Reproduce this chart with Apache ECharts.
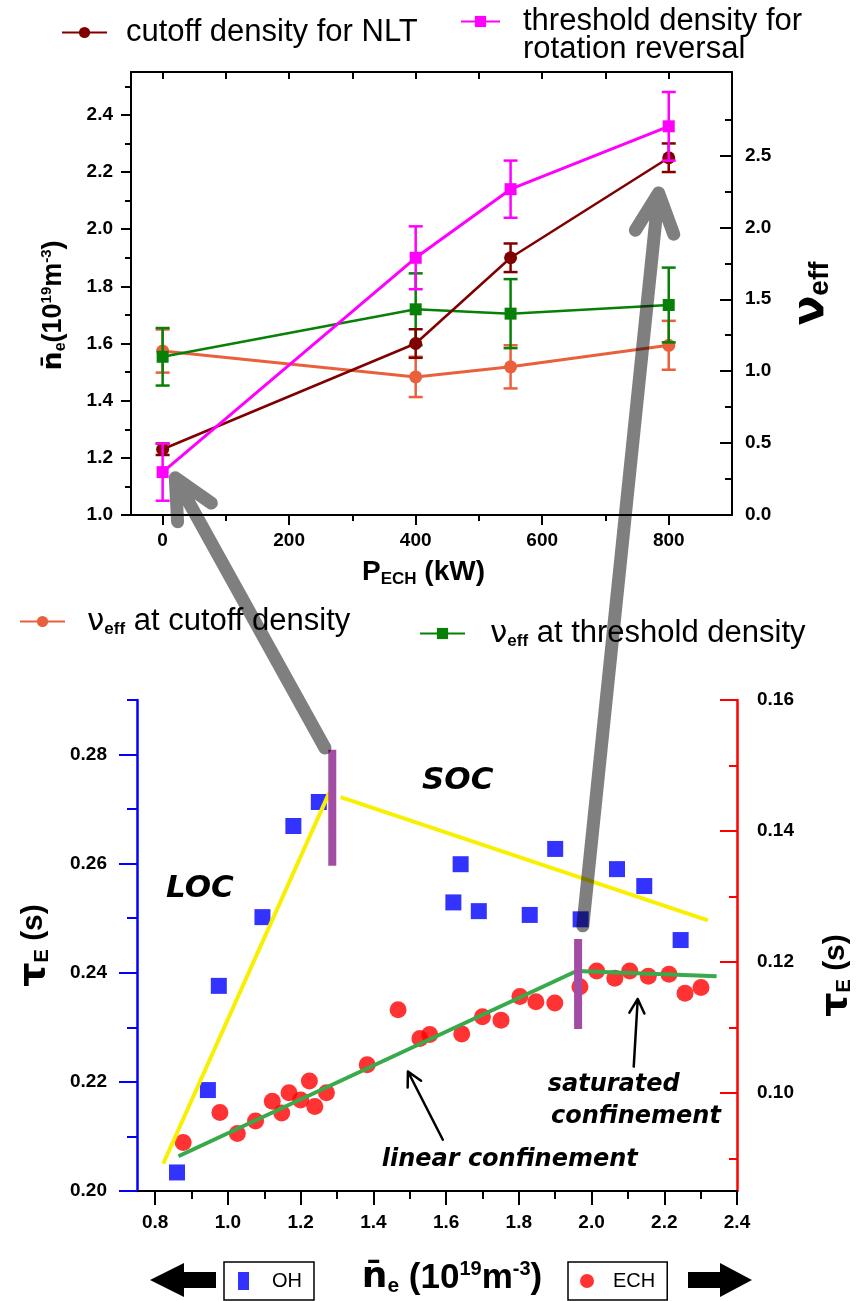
<!DOCTYPE html>
<html><head><meta charset="utf-8">
<script src="https://cdn.jsdelivr.net/npm/echarts@6/dist/echarts.min.js"></script>
<style>html,body{margin:0;padding:0;background:#fff}#c{width:864px;height:1301px}</style>
</head><body><div id="c"></div>
<script>
// ---------- Top panel data ----------
const pechKW = [0, 400, 550, 800];
const cutoffDensity = [1.23, 1.60, 1.90, 2.25];
const cutoffDensityErr = [0.02, 0.05, 0.05, 0.05];
const thresholdDensity = [1.15, 1.90, 2.14, 2.36];
const thresholdDensityErr = [0.10, 0.11, 0.10, 0.12];
const nuEffCutoff = [1.14, 0.96, 1.03, 1.18];
const nuEffCutoffErr = [0.15, 0.14, 0.15, 0.17];
const nuEffThreshold = [1.10, 1.43, 1.40, 1.46];
const nuEffThresholdErr = [0.20, 0.25, 0.24, 0.26];
const pechTicks = [0, 200, 400, 600, 800];
const pechMinorTicks = [100, 300, 500, 700];
const pechAllTicks = [0, 100, 200, 300, 400, 500, 600, 700, 800];
const densityTicks = [1.0, 1.2, 1.4, 1.6, 1.8, 2.0, 2.2, 2.4];
const densityMinorTicks = [1.1, 1.3, 1.5, 1.7, 1.9, 2.1, 2.3, 2.5];
const nuTicks = [0, 0.5, 1.0, 1.5, 2.0, 2.5];
const nuMinorTicks = [0.25, 0.75, 1.25, 1.75, 2.25, 2.75];

// ---------- Bottom panel data ----------
const ohDensity = [0.86, 0.945, 0.975, 1.095, 1.18, 1.25, 1.62, 1.64, 1.69, 1.83, 1.90, 1.97, 2.07, 2.145, 2.245];
const ohTau = [0.2034, 0.2185, 0.2376, 0.2502, 0.2669, 0.2713, 0.2529, 0.2599, 0.2513, 0.2506, 0.2627, 0.2498, 0.2590, 0.2559, 0.2460];
const echDensity = [0.877, 0.978, 1.026, 1.076, 1.122, 1.148, 1.168, 1.200, 1.224, 1.239, 1.271, 1.383, 1.468, 1.528, 1.555, 1.643, 1.700, 1.751, 1.803, 1.847, 1.899, 1.968, 2.014, 2.064, 2.105, 2.156, 2.213, 2.257, 2.301];
const echTau = [0.0924, 0.0970, 0.0938, 0.0957, 0.0987, 0.0969, 0.1000, 0.0989, 0.1018, 0.0979, 0.1000, 0.1043, 0.1127, 0.1083, 0.1089, 0.1090, 0.1116, 0.1111, 0.1147, 0.1139, 0.1137, 0.1162, 0.1186, 0.1175, 0.1186, 0.1178, 0.1181, 0.1152, 0.1161];
const locFitDensity = [0.822, 1.28];
const locFitTau = [0.2050, 0.2732];
const socFitDensity = [1.31, 2.32];
const socFitTau = [0.2722, 0.2496];
const echFitDensity = [0.864, 1.959, 2.344];
const echFitTau = [0.0903, 0.1186, 0.1178];
const transitionDensity = [1.287, 1.963];
const transitionTauLow = [0.2596, 0.2297];
const transitionTauHigh = [0.2809, 0.2462];
const neTicks = [0.8, 1.0, 1.2, 1.4, 1.6, 1.8, 2.0, 2.2, 2.4];
const neMinorTicks = [0.9, 1.1, 1.3, 1.5, 1.7, 1.9, 2.1, 2.3];
const tauOhTicks = [0.20, 0.22, 0.24, 0.26, 0.28];
const tauOhMinorTicks = [0.21, 0.23, 0.25, 0.27, 0.29];
const tauEchTicks = [0.10, 0.12, 0.14, 0.16];
const tauEchMinorTicks = [0.09, 0.11, 0.13, 0.15];

// ---------- styling ----------
const FONT = '"Liberation Sans", Arial, Helvetica, sans-serif';
const DJ = '"DejaVu Sans", "Liberation Sans", sans-serif';
const C_NLT = '#800000', C_THR = '#ff00ff', C_NUC = '#e8603c', C_NUT = '#078007';
const C_OH = '#0000ff', C_ECH = '#ff0000';

const labelStyle = (fmt, margin, extra) => Object.assign({
  fontSize: 19, fontWeight: 'bold', color: '#000', fontFamily: FONT, margin, formatter: fmt
}, extra || {});

function axis(o) {
  const a = {
    type: 'value', gridIndex: o.grid, position: o.pos, min: o.min, max: o.max,
    splitLine: { show: false },
    axisLine: { show: !!o.line, onZero: false, lineStyle: { color: o.color || '#000', width: o.lw || 2 } },
    axisTick: { show: true, inside: !!o.inside, customValues: o.ticks, length: o.tl, lineStyle: { color: o.color || '#000', width: 2 } },
    axisLabel: o.labels ? Object.assign({ customValues: o.labels }, o.labelStyle) : { show: false },
    axisPointer: { show: false }, silent: true
  };
  if (o.name) {
    a.name = o.name; a.nameLocation = 'middle'; a.nameGap = o.nameGap;
    if (o.nameRotate !== undefined) a.nameRotate = o.nameRotate;
    a.nameTextStyle = o.nameTextStyle;
  }
  return a;
}

const bold = (s) => ({ fontSize: s, fontWeight: 'bold', fontFamily: FONT, color: '#000' });

const xAxes = [
  axis({ grid: 0, pos: 'bottom', min: -50, max: 900, line: true, ticks: pechTicks, tl: 10, labels: pechTicks,
    labelStyle: labelStyle(v => String(v), 16),
    name: '{b|P}{s|ECH}{b| (kW)}', nameGap: 42,
    nameTextStyle: { padding: [0, 16, 0, 0], rich: { b: bold(28), s: Object.assign(bold(17), { padding: [14, 0, 0, 0] }) } } }),
  axis({ grid: 0, pos: 'bottom', min: -50, max: 900, ticks: pechMinorTicks, tl: 6 }),
  axis({ grid: 0, pos: 'top', min: -50, max: 900, line: true, inside: true, ticks: pechAllTicks, tl: 7 }),
  axis({ grid: 1, pos: 'bottom', min: 0.75, max: 2.4, line: true, ticks: neTicks, tl: 14, labels: neTicks,
    labelStyle: labelStyle(v => v.toFixed(1), 22),
    name: '{o|n\u0304}{s|e}{b| (10}{p|19}{b|m}{p|-3}{b|)}', nameGap: 68,
    nameTextStyle: { padding: [0, 0, 0, 30], rich: {
      o: { fontSize: 36, fontWeight: 'bold', fontFamily: DJ, color: '#000' },
      b: bold(35), s: Object.assign(bold(21), { padding: [17, 0, 0, 0] }),
      p: Object.assign(bold(20), { padding: [0, 0, 17, 0] }) } } }),
  axis({ grid: 1, pos: 'bottom', min: 0.75, max: 2.4, ticks: neMinorTicks, tl: 8 })
];

const yAxes = [
  axis({ grid: 0, pos: 'left', min: 1.0, max: 2.55, line: true, ticks: densityTicks, tl: 10, labels: densityTicks,
    labelStyle: labelStyle(v => v.toFixed(1), 18),
    name: '{o|n\u0304}{s|e}{b|(10}{p|19}{b|m}{p|-3}{b|)}', nameGap: 62, nameRotate: 90,
    nameTextStyle: { padding: [0, 24, 0, 0], rich: {
      o: { fontSize: 27, fontWeight: 'bold', fontFamily: DJ, color: '#000' },
      b: bold(27), s: Object.assign(bold(16), { padding: [14, 0, 0, 0] }),
      p: Object.assign(bold(15), { padding: [0, 0, 14, 0] }) } } }),
  axis({ grid: 0, pos: 'left', min: 1.0, max: 2.55, ticks: densityMinorTicks, tl: 6 }),
  axis({ grid: 0, pos: 'right', min: 0, max: 3.08, line: true, inside: true, ticks: nuTicks, tl: 12, labels: nuTicks,
    labelStyle: labelStyle(v => v.toFixed(1), 13),
    name: '{n|\u03bd}{s|eff}', nameGap: 58, nameRotate: 90,
    nameTextStyle: { rich: { n: Object.assign(bold(44), { fontFamily: DJ }), s: Object.assign(bold(28), { padding: [16, 0, 0, 0] }) } } }),
  axis({ grid: 0, pos: 'right', min: 0, max: 3.08, inside: true, ticks: nuMinorTicks, tl: 7 }),
  axis({ grid: 1, pos: 'left', min: 0.20, max: 0.29, line: true, lw: 2.5, color: C_OH, ticks: tauOhTicks, tl: 18, labels: tauOhTicks,
    labelStyle: labelStyle(v => v.toFixed(2), 30),
    name: '{t|\u03c4}{s|E}{b| (s)}', nameGap: 84, nameRotate: 90,
    nameTextStyle: { rich: { t: Object.assign(bold(38), { fontFamily: DJ }), b: bold(30), s: Object.assign(bold(20), { padding: [16, 0, 0, 0] }) } } }),
  axis({ grid: 1, pos: 'left', min: 0.20, max: 0.29, color: C_OH, ticks: tauOhMinorTicks, tl: 10 }),
  axis({ grid: 1, pos: 'right', min: 0.085, max: 0.16, line: true, lw: 2.5, color: C_ECH, inside: true, ticks: tauEchTicks, tl: 17, labels: tauEchTicks,
    labelStyle: labelStyle(v => v.toFixed(2), 20),
    name: '{t|\u03c4}{s|E}{b| (s)}', nameGap: 80, nameRotate: 90,
    nameTextStyle: { padding: [0, 60, 0, 0], rich: { t: Object.assign(bold(38), { fontFamily: DJ }), b: bold(30), s: Object.assign(bold(20), { padding: [16, 0, 0, 0] }) } } }),
  axis({ grid: 1, pos: 'right', min: 0.085, max: 0.16, color: C_ECH, inside: true, ticks: tauEchMinorTicks, tl: 8 })
];

function lineSeries(name, xs, ys, color, symbol, size, yAxisIndex, lw, z) {
  return { name, type: 'line', xAxisIndex: 0, yAxisIndex, data: xs.map((x, i) => [x, ys[i]]),
    symbol, symbolSize: size, showSymbol: true, itemStyle: { color }, lineStyle: { color, width: lw }, z, animation: false, silent: true };
}
function errBars(name, xs, ys, errs, color, yAxisIndex, z) {
  return { name, type: 'custom', xAxisIndex: 0, yAxisIndex, z, animation: false, silent: true,
    data: xs.map((x, i) => [x, ys[i] - errs[i], ys[i] + errs[i]]),
    encode: { x: 0, y: [1, 2] },
    renderItem(params, api) {
      const lo = api.coord([api.value(0), api.value(1)]);
      const hi = api.coord([api.value(0), api.value(2)]);
      const w = 7, st = { stroke: color, lineWidth: 2.5 };
      return { type: 'group', children: [
        { type: 'line', shape: { x1: lo[0], y1: lo[1], x2: hi[0], y2: hi[1] }, style: st },
        { type: 'line', shape: { x1: lo[0] - w, y1: lo[1], x2: lo[0] + w, y2: lo[1] }, style: st },
        { type: 'line', shape: { x1: hi[0] - w, y1: hi[1], x2: hi[0] + w, y2: hi[1] }, style: st }
      ] };
    } };
}

const N_NLT = 'cutoff density for NLT';
const N_THR = 'threshold density for rotation reversal';
const N_NUC = 'nu_eff at cutoff density';
const N_NUT = 'nu_eff at threshold density';

const series = [
  errBars('err-nuc', pechKW, nuEffCutoff, nuEffCutoffErr, C_NUC, 2, 2),
  lineSeries(N_NUC, pechKW, nuEffCutoff, C_NUC, 'circle', 13, 2, 3, 3),
  errBars('err-nut', pechKW, nuEffThreshold, nuEffThresholdErr, C_NUT, 2, 4),
  lineSeries(N_NUT, pechKW, nuEffThreshold, C_NUT, 'rect', 12, 2, 2.5, 5),
  errBars('err-nlt', pechKW, cutoffDensity, cutoffDensityErr, C_NLT, 0, 6),
  lineSeries(N_NLT, pechKW, cutoffDensity, C_NLT, 'circle', 13, 0, 2.5, 7),
  errBars('err-thr', pechKW, thresholdDensity, thresholdDensityErr, C_THR, 0, 8),
  lineSeries(N_THR, pechKW, thresholdDensity, C_THR, 'rect', 12, 0, 3, 9),
  // bottom panel
  { name: 'OH', type: 'scatter', xAxisIndex: 3, yAxisIndex: 4, data: ohDensity.map((x, i) => [x, ohTau[i]]),
    symbol: 'rect', symbolSize: 16, itemStyle: { color: C_OH }, z: 2, animation: false, silent: true },
  { name: 'ECH', type: 'scatter', xAxisIndex: 3, yAxisIndex: 6, data: echDensity.map((x, i) => [x, echTau[i]]),
    symbol: 'circle', symbolSize: 17, itemStyle: { color: C_ECH }, z: 2, animation: false, silent: true },
  { name: 'LOC fit', type: 'line', xAxisIndex: 3, yAxisIndex: 4, data: locFitDensity.map((x, i) => [x, locFitTau[i]]),
    showSymbol: false, symbol: 'none', lineStyle: { color: '#f8f000', width: 4 }, z: 4, animation: false, silent: true },
  { name: 'SOC fit', type: 'line', xAxisIndex: 3, yAxisIndex: 4, data: socFitDensity.map((x, i) => [x, socFitTau[i]]),
    showSymbol: false, symbol: 'none', lineStyle: { color: '#f8f000', width: 4 }, z: 4, animation: false, silent: true },
  { name: 'ECH fit', type: 'line', xAxisIndex: 3, yAxisIndex: 6, data: echFitDensity.map((x, i) => [x, echFitTau[i]]),
    showSymbol: false, symbol: 'none', lineStyle: { color: '#38aa4c', width: 4 }, z: 4, animation: false, silent: true },
  { name: 'transitions', type: 'custom', xAxisIndex: 3, yAxisIndex: 4, z: 5, animation: false, silent: true,
    data: transitionDensity.map((x, i) => [x, transitionTauLow[i], transitionTauHigh[i]]),
    encode: { x: 0, y: [1, 2] },
    renderItem(params, api) {
      const lo = api.coord([api.value(0), api.value(1)]);
      const hi = api.coord([api.value(0), api.value(2)]);
      return { type: 'rect', shape: { x: lo[0] - 4, y: hi[1], width: 8, height: lo[1] - hi[1] }, style: { fill: '#a24ca4' } };
    } }
];

const legTxt = { fontSize: 31, fontFamily: FONT, color: '#000' };
const nuRich = { n: { fontSize: 31, fontFamily: DJ, color: '#000' }, s: { fontSize: 17, fontWeight: 'bold', fontFamily: FONT, color: '#000', padding: [16, 0, 0, 0] }, t: legTxt };
const legendBase = { orient: 'horizontal', padding: 0, itemWidth: 45, itemHeight: 14, selectedMode: false, inactiveColor: '#000' };

const legends = [
  Object.assign({}, legendBase, { left: 61, top: 17, data: [N_NLT], textStyle: Object.assign({}, legTxt, { padding: [0, 0, 0, 14] }) }),
  Object.assign({}, legendBase, { left: 460, top: -22, itemWidth: 39, data: [N_THR],
    formatter: () => '\u00a0\nthreshold density for\nrotation reversal',
    textStyle: Object.assign({}, legTxt, { lineHeight: 28, padding: [0, 0, 0, 18] }) }),
  Object.assign({}, legendBase, { left: 19, top: 606, data: [N_NUC],
    formatter: () => '{n|\u03bd}{s|eff}{t| at cutoff density}', textStyle: { padding: [0, 0, 0, 17], rich: nuRich } }),
  Object.assign({}, legendBase, { left: 419, top: 618, data: [N_NUT],
    formatter: () => '{n|\u03bd}{s|eff}{t| at threshold density}', textStyle: { padding: [0, 0, 0, 20], rich: nuRich } }),
  { left: 224, top: 1262, data: [{ name: 'OH', icon: 'rect' }], itemWidth: 11, itemHeight: 18, selectedMode: false,
    borderColor: '#000', borderWidth: 1.5, padding: [9, 12, 9, 14], textStyle: { fontSize: 20, fontFamily: FONT, color: '#000', padding: [0, 0, 0, 18] } },
  { left: 568, top: 1262, data: [{ name: 'ECH', icon: 'circle' }], itemWidth: 14, itemHeight: 16, selectedMode: false,
    borderColor: '#000', borderWidth: 1.5, padding: [9, 12, 9, 12], textStyle: { fontSize: 20, fontFamily: FONT, color: '#000', padding: [0, 0, 0, 14] } }
];

const chart = echarts.init(document.getElementById('c'), null, { renderer: 'canvas' });
chart.setOption({
  backgroundColor: '#fff',
  animation: false,
  grid: [
    { left: 131, top: 72, width: 601, height: 443, containLabel: false },
    { left: 137, top: 700, width: 600, height: 491, containLabel: false }
  ],
  xAxis: xAxes,
  yAxis: yAxes,
  legend: legends,
  series
});

// ---------- annotations (positions given in axis data space) ----------
const topPx = p => chart.convertToPixel({ xAxisIndex: 0, yAxisIndex: 0 }, p);
const botPx = p => chart.convertToPixel({ xAxisIndex: 3, yAxisIndex: 4 }, p);

function arrowPath(tail, tip, headLen, angDeg) {
  const ang = Math.atan2(tail[1] - tip[1], tail[0] - tip[0]);
  const a = angDeg * Math.PI / 180;
  const h1 = [tip[0] + headLen * Math.cos(ang + a), tip[1] + headLen * Math.sin(ang + a)];
  const h2 = [tip[0] + headLen * Math.cos(ang - a), tip[1] + headLen * Math.sin(ang - a)];
  return [tail, tip, h1, tip, h2];
}
function annText(text, p, size) {
  const q = botPx(p);
  return { type: 'text', x: q[0], y: q[1], z: 50, silent: true,
    style: { text, fontSize: size, fontWeight: 'bold', fontStyle: 'italic', fontFamily: DJ, fill: '#000',
      align: 'center', verticalAlign: 'middle', textAlign: 'center', textVerticalAlign: 'middle' } };
}
const grey = 'rgba(0,0,0,0.5)';
const graphic = [
  { type: 'polyline', z: 100, silent: true, shape: { points: arrowPath(botPx([1.267, 0.2812]), topPx([20, 1.13]), 44, 26) },
    style: { stroke: grey, fill: null, lineWidth: 13, lineCap: 'round', lineJoin: 'round' } },
  { type: 'polyline', z: 100, silent: true, shape: { points: arrowPath(botPx([1.976, 0.2486]), topPx([784, 2.127]), 44, 26) },
    style: { stroke: grey, fill: null, lineWidth: 13, lineCap: 'round', lineJoin: 'round' } },
  annText('LOC', [0.923, 0.2554], 31),
  annText('SOC', [1.632, 0.2751], 31),
  annText('linear confinement', [1.775, 0.2057], 24),
  annText('saturated', [2.061, 0.2195], 24),
  annText('confinement', [2.122, 0.2136], 24),
  { type: 'polyline', z: 50, silent: true, shape: { points: arrowPath(botPx([1.591, 0.2094]), botPx([1.495, 0.2219]), 16, 28) },
    style: { stroke: '#000', fill: null, lineWidth: 2.5, lineCap: 'round', lineJoin: 'round' } },
  { type: 'polyline', z: 50, silent: true, shape: { points: arrowPath(botPx([2.116, 0.2228]), botPx([2.127, 0.2352]), 16, 28) },
    style: { stroke: '#000', fill: null, lineWidth: 2.5, lineCap: 'round', lineJoin: 'round' } },
  // big direction arrows beside the bottom legend boxes
  { type: 'polygon', z: 50, silent: true, shape: { points: [[150, 1280], [184, 1263], [184, 1272], [216, 1272], [216, 1288], [184, 1288], [184, 1297]] }, style: { fill: '#000' } },
  { type: 'polygon', z: 50, silent: true, shape: { points: [[752, 1280], [720, 1263], [720, 1272], [688, 1272], [688, 1288], [720, 1288], [720, 1297]] }, style: { fill: '#000' } }
];
chart.setOption({ graphic });
</script>
</body></html>
